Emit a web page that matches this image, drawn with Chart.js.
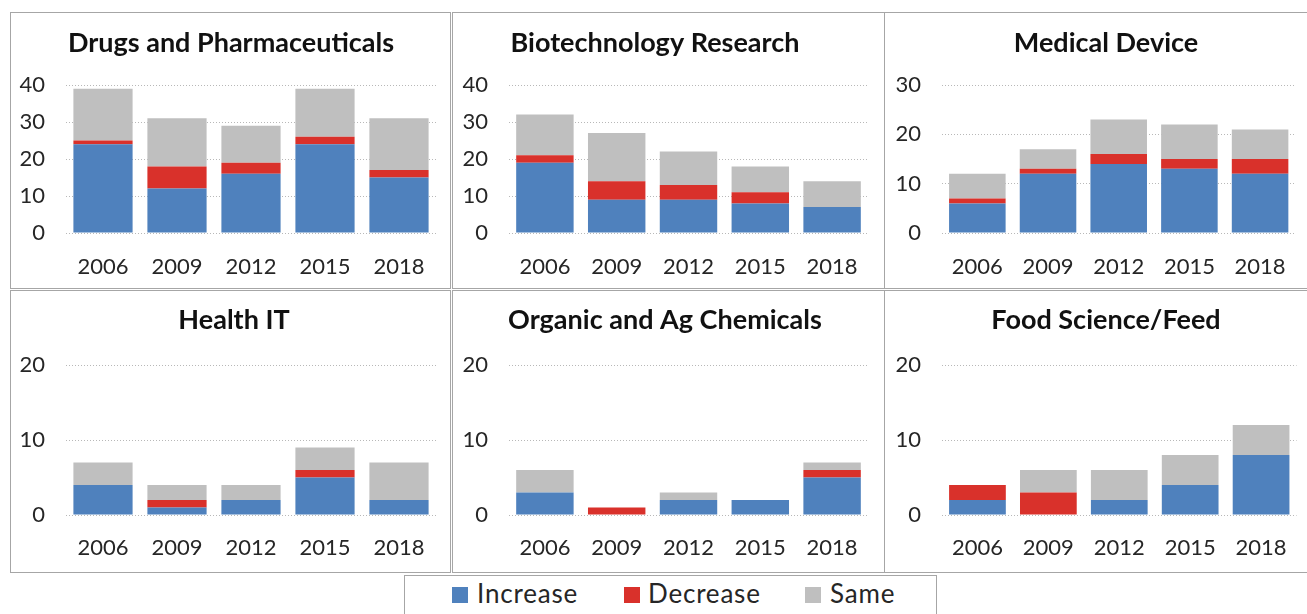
<!DOCTYPE html>
<html>
<head>
<meta charset="utf-8">
<script src="https://cdn.jsdelivr.net/npm/chart.js@4.4.0/dist/chart.umd.min.js"></script>
<style>
  html, body { margin: 0; padding: 0; background: #fff; }
  body { width: 1307px; height: 614px; position: relative; overflow: hidden; font-family: Lato, sans-serif; }
  .box { position: absolute; border: 1px solid #a6a6a6; box-sizing: border-box; }
  .chart { position: absolute; }
  #legend { position: absolute; left: 404px; top: 575px; width: 533px; height: 50px; border: 1px solid #a6a6a6; box-sizing: border-box; }
  .sw { position: absolute; top: 11px; width: 16px; height: 16px; }
  .lt { position: absolute; top: 1px; font-size: 26px; letter-spacing: 0.8px; line-height: 32px; color: #262626; }
</style>
</head>
<body>
<div class="box" style="left:10px;top:12px;width:441px;height:277px"></div>
<div class="box" style="left:452px;top:12px;width:433px;height:277px"></div>
<div class="box" style="left:884px;top:12px;width:430px;height:277px"></div>
<div class="box" style="left:10px;top:290px;width:441px;height:283px"></div>
<div class="box" style="left:452px;top:290px;width:433px;height:283px"></div>
<div class="box" style="left:884px;top:290px;width:430px;height:283px"></div>
<div id="legend"></div>
<script>
"use strict";

const years = ["2006", "2009", "2012", "2015", "2018"];
const seriesNames = ["Increase", "Decrease", "Same"];
const seriesColors = ["#4f81bd", "#d9312b", "#bfbfbf"];

const drugsIncrease = [24, 12, 16, 24, 15];
const drugsDecrease = [1, 6, 3, 2, 2];
const drugsSame = [14, 13, 10, 13, 14];

const biotechIncrease = [19, 9, 9, 8, 7];
const biotechDecrease = [2, 5, 4, 3, 0];
const biotechSame = [11, 13, 9, 7, 7];

const deviceIncrease = [6, 12, 14, 13, 12];
const deviceDecrease = [1, 1, 2, 2, 3];
const deviceSame = [5, 4, 7, 7, 6];

const healthItIncrease = [4, 1, 2, 5, 2];
const healthItDecrease = [0, 1, 0, 1, 0];
const healthItSame = [3, 2, 2, 3, 5];

const organicIncrease = [3, 0, 2, 2, 5];
const organicDecrease = [0, 1, 0, 0, 1];
const organicSame = [3, 0, 1, 0, 1];

const foodIncrease = [2, 0, 2, 4, 8];
const foodDecrease = [2, 3, 0, 0, 0];
const foodSame = [0, 3, 4, 4, 4];

// left/width = canvas, plotLeft/plotRight = chart area, titleCenter = title x (page px)
const panels = [
  { title: "Drugs and Pharmaceuticals", max: 40, data: [drugsIncrease, drugsDecrease, drugsSame],
    left: 10, width: 443, plotLeft: 66, plotRight: 436, titleCenter: 231, row: 0 },
  { title: "Biotechnology Research", max: 40, data: [biotechIncrease, biotechDecrease, biotechSame],
    left: 440, width: 444, plotLeft: 509, plotRight: 868, titleCenter: 655, row: 0 },
  { title: "Medical Device", max: 30, data: [deviceIncrease, deviceDecrease, deviceSame],
    left: 884, width: 423, plotLeft: 942, plotRight: 1301, titleCenter: 1106, row: 0 },
  { title: "Health IT", max: 20, data: [healthItIncrease, healthItDecrease, healthItSame],
    left: 10, width: 443, plotLeft: 66, plotRight: 436, titleCenter: 234, row: 1 },
  { title: "Organic and Ag Chemicals", max: 20, data: [organicIncrease, organicDecrease, organicSame],
    left: 440, width: 444, plotLeft: 509, plotRight: 868, titleCenter: 665, row: 1 },
  { title: "Food Science/Feed", max: 20, data: [foodIncrease, foodDecrease, foodSame],
    left: 884, width: 423, plotLeft: 942, plotRight: 1301, titleCenter: 1106, row: 1 }
];

// per row: canvas top/height, title padding, x axis block height, x label padding
const rowLayout = [
  { top: 12, height: 279, titleTop: 14.8, titleBottom: 25.8, xHeight: 58, xPad: 20.8 },
  { top: 291, height: 281, titleTop: 12.8, titleBottom: 28.8, xHeight: 57, xPad: 19.8 }
];

Chart.defaults.font.family = "Lato, sans-serif";
Chart.defaults.color = "#262626";

// moves the title block so its centre sits at a given x (canvas px)
const titleShift = {
  id: "titleShift",
  afterLayout(chart, args, opts) {
    const tb = chart.titleBlock;
    if (!tb || opts.center == null) return;
    const dx = opts.center - (tb.left + tb.right) / 2;
    tb.left += dx;
    tb.right += dx;
  }
};

window.addEventListener("DOMContentLoaded", init);

function init() {
  for (let p of panels) {
    drawPanel(p);
  }
  drawLegend();
}

function drawPanel(p) {
  const rl = rowLayout[p.row];
  const padRight = p.left + p.width - p.plotRight;
  const yWidth = p.plotLeft - p.left;

  const wrap = document.createElement("div");
  wrap.className = "chart";
  wrap.style.left = p.left + "px";
  wrap.style.top = rl.top + "px";
  wrap.style.width = p.width + "px";
  wrap.style.height = rl.height + "px";
  const canvas = document.createElement("canvas");
  wrap.appendChild(canvas);
  document.body.appendChild(wrap);

  const datasets = [];
  for (let i = 0; i < seriesNames.length; i++) {
    datasets.push({
      label: seriesNames[i],
      data: p.data[i],
      backgroundColor: seriesColors[i],
      borderWidth: 0,
      barPercentage: 0.8,
      categoryPercentage: 1.0
    });
  }

  new Chart(canvas, {
    type: "bar",
    data: { labels: years, datasets: datasets },
    plugins: [titleShift],
    options: {
      responsive: true,
      maintainAspectRatio: false,
      animation: false,
      layout: { padding: { left: 0, right: padRight, top: 0, bottom: 0 } },
      plugins: {
        legend: { display: false },
        tooltip: { enabled: false },
        titleShift: { center: p.titleCenter - p.left },
        title: {
          display: true,
          text: p.title,
          color: "#111",
          font: { size: 27, weight: "bold" },
          padding: { top: rl.titleTop, bottom: rl.titleBottom }
        }
      },
      scales: {
        x: {
          stacked: true,
          grid: { display: false, drawTicks: false },
          border: { display: false },
          ticks: { font: { size: 22 }, padding: rl.xPad, color: "#262626" },
          afterFit: function (scale) { scale.height = rl.xHeight; }
        },
        y: {
          stacked: true,
          min: 0,
          max: p.max,
          ticks: { stepSize: 10, font: { size: 22 }, padding: 21, color: "#262626" },
          grid: { color: "#b8b8b8", lineWidth: 1, drawTicks: false },
          border: { display: false, dash: [1, 2] },
          afterFit: function (scale) { scale.width = yWidth; }
        }
      }
    }
  });
}

function drawLegend() {
  const legend = document.getElementById("legend");
  const swatchX = [47, 219, 400];
  const textX = [72, 243, 425];
  for (let i = 0; i < seriesNames.length; i++) {
    const sw = document.createElement("div");
    sw.className = "sw";
    sw.style.left = swatchX[i] + "px";
    sw.style.background = seriesColors[i];
    legend.appendChild(sw);
    const lt = document.createElement("div");
    lt.className = "lt";
    lt.style.left = textX[i] + "px";
    lt.innerHTML = seriesNames[i];
    legend.appendChild(lt);
  }
}
</script>
</body>
</html>
